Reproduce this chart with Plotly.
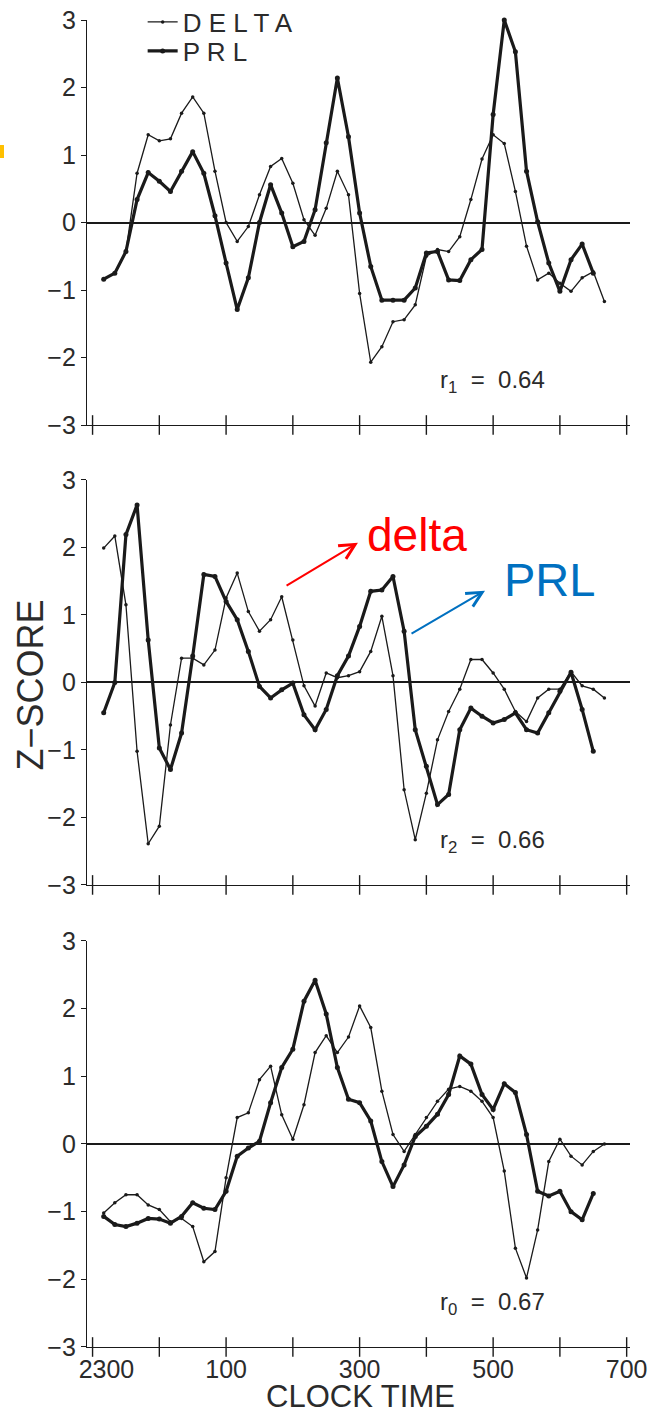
import plotly.graph_objects as go

# Sample times in minutes after 23:00 (10-min sampling)
minutes = list(range(10, 470, 10))
prl_minutes = minutes[:-1]

# r1 night
delta_r1 = [-0.84, -0.75, -0.43, 0.73, 1.30, 1.21, 1.24, 1.62, 1.86, 1.62,
            0.76, 0.0, -0.28, -0.06, 0.41, 0.83, 0.95, 0.58, 0.04, -0.19,
            0.21, 0.76, 0.41, -1.05, -2.07, -1.84, -1.47, -1.44, -1.22, -0.5,
            -0.40, -0.43, -0.21, 0.34, 0.94, 1.30, 1.17, 0.46, -0.35, -0.85,
            -0.75, -0.9, -1.02, -0.82, -0.73, -1.17]
prl_r1 = [-0.84, -0.75, -0.43, 0.34, 0.74, 0.61, 0.46, 0.76, 1.05, 0.73,
          0.1, -0.6, -1.29, -0.82, 0.0, 0.56, 0.14, -0.36, -0.28, 0.19,
          1.18, 2.14, 1.27, 0.14, -0.65, -1.15, -1.15, -1.15, -0.97, -0.45,
          -0.43, -0.85, -0.86, -0.55, -0.40, 1.6, 3.0, 2.53, 0.76, 0.01,
          -0.6, -1.02, -0.55, -0.32, -0.75]

# r2 night
delta_r2 = [1.99, 2.17, 1.15, -1.02, -2.39, -2.13, -0.63, 0.36, 0.36, 0.26,
            0.48, 1.25, 1.62, 1.05, 0.76, 0.93, 1.27, 0.63, -0.05, -0.35,
            0.14, 0.07, 0.1, 0.16, 0.46, 0.98, 0.1, -1.59, -2.33, -1.64,
            -0.85, -0.43, -0.1, 0.34, 0.34, 0.14, -0.1, -0.43, -0.58, -0.23,
            -0.1, -0.1, 0.16, -0.05, -0.1, -0.23]
prl_r2 = [-0.45, 0.0, 2.19, 2.63, 0.63, -0.97, -1.29, -0.75, 0.39, 1.60,
          1.57, 1.2, 0.93, 0.46, -0.06, -0.23, -0.11, -0.01, -0.48, -0.70,
          -0.4, 0.1, 0.39, 0.83, 1.35, 1.37, 1.57, 0.76, -0.70, -1.24,
          -1.81, -1.66, -0.70, -0.38, -0.5, -0.60, -0.55, -0.45, -0.70, -0.75,
          -0.45, -0.13, 0.15, -0.4, -1.02]

# r0 night
delta_r0 = [-1.02, -0.87, -0.75, -0.75, -0.90, -0.97, -1.15, -1.10, -1.22, -1.74,
            -1.59, -0.5, 0.39, 0.46, 0.95, 1.15, 0.43, 0.07, 0.58, 1.35,
            1.60, 1.35, 1.58, 2.04, 1.72, 0.78, 0.14, -0.11, 0.14, 0.39,
            0.63, 0.81, 0.85, 0.78, 0.63, 0.39, -0.40, -1.54, -1.98, -1.27,
            -0.26, 0.07, -0.18, -0.31, -0.11, 0.0]
prl_r0 = [-1.07, -1.19, -1.22, -1.17, -1.10, -1.11, -1.17, -1.07, -0.87, -0.95,
          -0.97, -0.70, -0.18, -0.06, 0.04, 0.61, 1.13, 1.40, 2.11, 2.42,
          1.92, 1.13, 0.66, 0.61, 0.34, -0.26, -0.63, -0.31, 0.11, 0.26,
          0.44, 0.73, 1.30, 1.18, 0.73, 0.51, 0.89, 0.76, 0.14, -0.70,
          -0.77, -0.70, -1.0, -1.12, -0.73]

panels = [
    (delta_r1, prl_r1, "r<sub>1</sub>  =  0.64"),
    (delta_r2, prl_r2, "r<sub>2</sub>  =  0.66"),
    (delta_r0, prl_r0, "r<sub>0</sub>  =  0.67"),
]

hour_ticks = [0, 60, 120, 180, 240, 300, 360, 420, 480]
label_ticks = [0, 120, 240, 360, 480]
label_text = ["\u00a0\u00a0\u00a0\u00a02300", "100", "300", "500", "700"]
y_ticks = [-3, -2, -1, 0, 1, 2, 3]
x_range = [-5, 483]

ink = "#1a1a1a"
txt = "#2b2b2b"
font = "Liberation Sans"
domains = [[0.6948, 1.0], [0.3482, 0.6534], [0.0, 0.3060]]

fig = go.Figure()

for i, (d, p, rtxt) in enumerate(panels):
    n = i + 1
    xa = "x" if n == 1 else f"x{n}"
    ya = "y" if n == 1 else f"y{n}"
    fig.add_trace(go.Scatter(
        x=minutes, y=d, xaxis=xa, yaxis=ya, mode="lines+markers",
        name="D E L T A", showlegend=(n == 1), legend="legend",
        line=dict(color=ink, width=1.3), marker=dict(color=ink, size=3.5),
        cliponaxis=False, hoverinfo="skip"))
    fig.add_trace(go.Scatter(
        x=prl_minutes, y=p, xaxis=xa, yaxis=ya, mode="lines+markers",
        name="P R L", showlegend=(n == 1), legend="legend2",
        line=dict(color=ink, width=3.2), marker=dict(color=ink, size=5),
        cliponaxis=False, hoverinfo="skip"))
    # hourly tick crosses on the time axis
    fig.add_trace(go.Scatter(
        x=hour_ticks, y=[y_ticks[0]] * len(hour_ticks), xaxis=xa, yaxis=ya,
        mode="markers", showlegend=False, hoverinfo="skip", cliponaxis=False,
        marker=dict(symbol="line-ns", size=14, line=dict(color=ink, width=1.4))))

    xkey = "xaxis" if n == 1 else f"xaxis{n}"
    ykey = "yaxis" if n == 1 else f"yaxis{n}"
    fig.layout[xkey] = dict(
        domain=[0, 1], anchor=ya, range=x_range,
        tickmode="array", tickvals=label_ticks, ticktext=label_text,
        showticklabels=(n == 3), ticks="", showline=True, linecolor=ink,
        linewidth=1.4, showgrid=False, zeroline=False,
        tickfont=dict(family=font, size=25, color=txt))
    fig.layout[ykey] = dict(
        domain=domains[i], anchor=xa, range=[-3, 3],
        tickmode="array", tickvals=y_ticks, ticks="outside", ticklen=5,
        tickwidth=1.4, tickcolor=ink, showline=True, linecolor=ink,
        linewidth=1.4, showgrid=False, zeroline=True, zerolinecolor=ink,
        zerolinewidth=1.8, tickfont=dict(family=font, size=25, color=txt))

    fig.add_annotation(
        xref=xa, yref=ya, x=310, y=-2.36, text=rtxt, showarrow=False,
        xanchor="left", yanchor="middle",
        font=dict(family=font, size=24, color=txt))

# red / blue callouts on the middle panel
fig.add_annotation(xref="x2", yref="y2", axref="x2", ayref="y2",
                   x=238.5, y=2.07, ax=173, ay=1.42, text="", showarrow=True,
                   arrowhead=5, arrowsize=1.5, arrowwidth=2, arrowcolor="#ff0000",
                   standoff=0, startstandoff=0)
fig.add_annotation(xref="x2", yref="y2", x=244.5, y=2.19, text="delta",
                   showarrow=False, xanchor="left", yanchor="middle",
                   font=dict(family=font, size=46, color="#ff0000"))
fig.add_annotation(xref="x2", yref="y2", axref="x2", ayref="y2",
                   x=352.7, y=1.36, ax=285.3, ay=0.71, text="", showarrow=True,
                   arrowhead=5, arrowsize=1.5, arrowwidth=2, arrowcolor="#0070c0",
                   standoff=0, startstandoff=0)
fig.add_annotation(xref="x2", yref="y2", x=368, y=1.52, text="PRL",
                   showarrow=False, xanchor="left", yanchor="middle",
                   font=dict(family=font, size=47, color="#0070c0"))

# axis titles
fig.add_annotation(xref="paper", yref="y2", x=-0.105, y=-0.03, text="Z\u2212SCORE",
                   textangle=-90, showarrow=False, xanchor="center", yanchor="middle",
                   font=dict(family=font, size=36, color=txt))
fig.add_annotation(xref="paper", yref="paper", x=0.503, y=-0.0372, text="CLOCK TIME",
                   showarrow=False, xanchor="center", yanchor="middle",
                   font=dict(family=font, size=31, color=txt))

# small slide remnant at the left edge
fig.add_shape(type="rect", xref="paper", yref="paper", x0=-0.1602, x1=-0.1529,
              y0=0.8960, y1=0.9058, fillcolor="#ffc000", line_width=0)

legend_font = dict(family=font, size=26, color=txt)
fig.update_layout(
    width=654, height=1413,
    margin=dict(l=87, r=24, t=20, b=66, autoexpand=False),
    paper_bgcolor="white", plot_bgcolor="white",
    legend=dict(x=0.1025, y=1.0162, xanchor="left", yanchor="top",
                bgcolor="rgba(0,0,0,0)", font=legend_font),
    legend2=dict(x=0.1025, y=0.9943, xanchor="left", yanchor="top",
                 bgcolor="rgba(0,0,0,0)", font=legend_font),
)

fig.write_html("out.html")
